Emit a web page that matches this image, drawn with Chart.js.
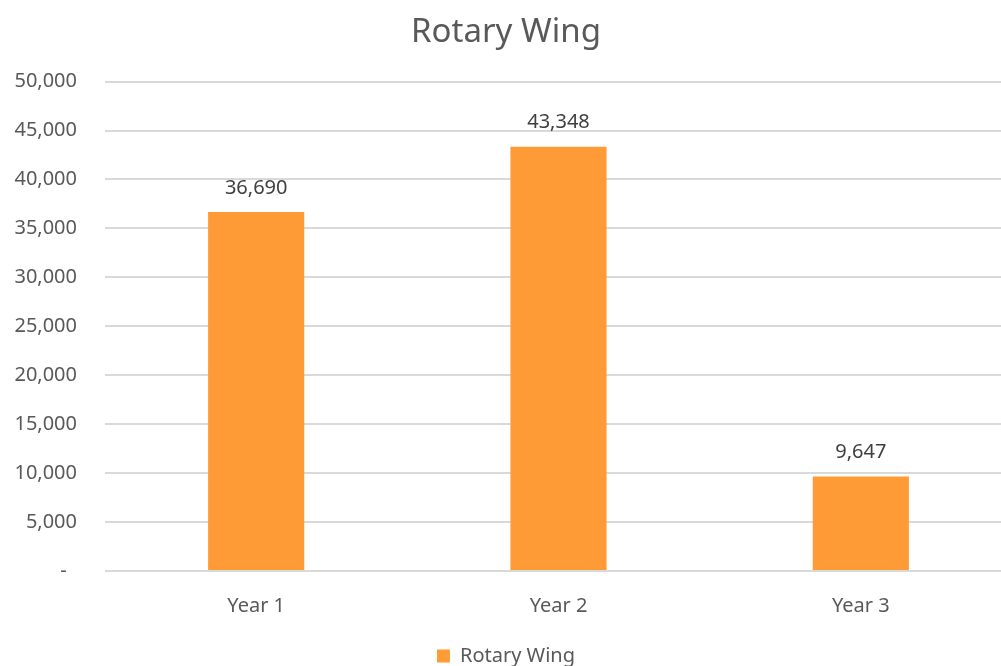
<!DOCTYPE html>
<html>
<head>
<meta charset="utf-8">
<script src="https://cdn.jsdelivr.net/npm/chart.js@4"></script>
<style>
  html, body { margin: 0; padding: 0; background: #fff; overflow: hidden; }
  #wrap { position: absolute; left: 0; top: 0; width: 1012px; height: 676px; }
</style>
</head>
<body>
<div id="wrap"><canvas id="chart"></canvas></div>
<script>
// Chart data
const categories = ['Year 1', 'Year 2', 'Year 3'];
const rotaryWing = [36690, 43348, 9647];
const seriesName = 'Rotary Wing';

const fontFamily = '"Noto Sans", "Open Sans", sans-serif';

function fmt(v) {
    return v === 0 ? '-  ' : v.toLocaleString('en-US');
}

// simple value labels above the bars
const barLabels = {
    id: 'barLabels',
    afterDatasetsDraw(chart) {
        const ctx = chart.ctx;
        ctx.save();
        ctx.font = '20px ' + fontFamily;
        ctx.fillStyle = '#404040';
        ctx.textAlign = 'center';
        ctx.textBaseline = 'middle';
        chart.getDatasetMeta(0).data.forEach((bar, i) => {
            ctx.fillText(fmt(rotaryWing[i]), bar.x, bar.y - 24);
        });
        ctx.restore();
    }
};

new Chart(document.getElementById('chart'), {
    type: 'bar',
    data: {
        labels: categories,
        datasets: [{
            label: seriesName,
            data: rotaryWing,
            backgroundColor: '#FF9B37',
            borderWidth: 0,
            barPercentage: 0.318,
            categoryPercentage: 1
        }]
    },
    options: {
        responsive: true,
        maintainAspectRatio: false,
        animation: false,
        plugins: {
            title: {
                display: true,
                text: 'Rotary Wing',
                color: '#595959',
                font: { family: fontFamily, size: 33, weight: 'normal' },
                padding: { top: 13, bottom: 29 }
            },
            legend: {
                position: 'bottom',
                labels: {
                    color: '#595959',
                    font: { family: fontFamily, size: 20 },
                    boxWidth: 13,
                    boxHeight: 13,
                    padding: 13
                }
            },
            tooltip: { enabled: false }
        },
        scales: {
            x: {
                grid: { display: false },
                border: { display: false },
                ticks: {
                    color: '#595959',
                    font: { family: fontFamily, size: 20 },
                    padding: 15
                }
            },
            y: {
                min: 0,
                max: 50000,
                afterFit(scale) { scale.width = 105; },
                grid: { color: '#d9d9d9', lineWidth: 2, drawTicks: false },
                border: { display: false },
                ticks: {
                    stepSize: 5000,
                    color: '#595959',
                    font: { family: fontFamily, size: 20 },
                    padding: 28,
                    callback: v => fmt(v)
                }
            }
        }
    },
    plugins: [barLabels]
});
</script>
</body>
</html>
